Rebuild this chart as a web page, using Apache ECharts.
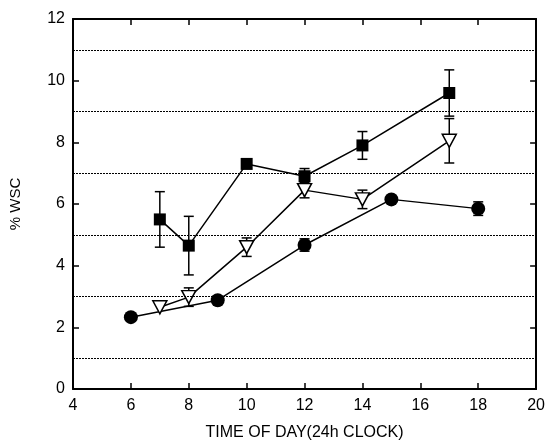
<!DOCTYPE html>
<html><head><meta charset="utf-8">
<script src="https://cdn.jsdelivr.net/npm/echarts@6/dist/echarts.min.js"></script>
<style>html,body{margin:0;padding:0;background:#fff}#c{width:548px;height:446px}</style>
</head><body><div id="c"></div>
<script>
// Data
var squareX = [7, 8, 10, 12, 14, 17];
var squareY = [5.5, 4.65, 7.3, 6.9, 7.9, 9.6];
var squareErr = [0.9, 0.95, 0, 0.25, 0.45, 0.75];

var triX = [7, 8, 10, 12, 14, 17];
var triY = [2.65, 2.98, 4.6, 6.45, 6.15, 8.05];
var triErr = [0, 0.3, 0.3, 0.25, 0.3, 0.72];

var circX = [6, 9, 12, 15, 18];
var circY = [2.33, 2.88, 4.67, 6.15, 5.85];
var circErr = [0, 0, 0.2, 0, 0.22];

var gridValues = [1, 3, 5, 7, 9, 11];
var xTicks = [4, 6, 8, 10, 12, 14, 16, 18, 20];
var yTicks = [0, 2, 4, 6, 8, 10, 12];

function pts(xs, ys) { return xs.map(function (x, i) { return [x, ys[i]]; }); }
function errPts(xs, ys, es) {
  var out = [];
  xs.forEach(function (x, i) { if (es[i] > 0) out.push([x, ys[i] - es[i], ys[i] + es[i]]); });
  return out;
}
var allErr = errPts(squareX, squareY, squareErr)
  .concat(errPts(triX, triY, triErr))
  .concat(errPts(circX, circY, circErr));

var font = 'Liberation Sans, Arial, sans-serif';
var chart = echarts.init(document.getElementById('c'), null, {renderer: 'canvas'});
var axisLine = {show: true, onZero: false, lineStyle: {color: '#000', width: 2}};
var tickIn = {show: true, inside: true, length: 6, lineStyle: {color: '#000', width: 1.5}};
chart.setOption({
  animation: false,
  backgroundColor: '#fff',
  grid: {left: 71, right: 9, top: 19, bottom: 56, containLabel: false},
  xAxis: [{
    type: 'value', min: 4, max: 20, interval: 2, position: 'bottom',
    name: 'TIME OF DAY(24h CLOCK)', nameLocation: 'middle', nameGap: 36,
    nameTextStyle: {fontFamily: font, fontSize: 16, color: '#000'},
    axisLine: axisLine, axisTick: tickIn,
    axisLabel: {fontFamily: font, fontSize: 16, color: '#000', margin: 9,
      formatter: function (v) { return xTicks.indexOf(v) >= 0 ? String(v) : ''; }},
    splitLine: {show: false}
  }, {
    type: 'value', min: 4, max: 20, interval: 2, position: 'top',
    axisLine: axisLine, axisTick: tickIn, axisLabel: {show: false}, splitLine: {show: false}
  }],
  yAxis: [{
    type: 'value', min: 0, max: 12, interval: 2, position: 'left',
    name: '% WSC', nameLocation: 'middle', nameGap: 50, nameRotate: 90,
    nameTextStyle: {fontFamily: font, fontSize: 15, color: '#000'},
    axisLine: axisLine, axisTick: tickIn,
    axisLabel: {fontFamily: font, fontSize: 16, color: '#000', margin: 8,
      formatter: function (v) { return yTicks.indexOf(v) >= 0 ? String(v) : ''; }},
    splitLine: {show: false}
  }, {
    type: 'value', min: 0, max: 12, interval: 2, position: 'right',
    axisLine: axisLine, axisTick: tickIn, axisLabel: {show: false}, splitLine: {show: false}
  }],
  series: [
    {
      type: 'line', data: [], silent: true,
      markLine: {
        silent: true, symbol: 'none', label: {show: false},
        lineStyle: {color: '#000', type: [2, 1], width: 1.2},
        data: gridValues.map(function (v) { return {yAxis: v}; })
      }
    },
    {
      type: 'custom', z: 1, data: allErr, silent: true,
      renderItem: function (params, api) {
        var x = api.value(0);
        var lo = api.coord([x, api.value(1)]);
        var hi = api.coord([x, api.value(2)]);
        var w = 5;
        var st = {stroke: '#000', lineWidth: 1.5};
        return {type: 'group', children: [
          {type: 'line', shape: {x1: lo[0], y1: lo[1], x2: hi[0], y2: hi[1]}, style: st},
          {type: 'line', shape: {x1: lo[0] - w, y1: lo[1], x2: lo[0] + w, y2: lo[1]}, style: st},
          {type: 'line', shape: {x1: hi[0] - w, y1: hi[1], x2: hi[0] + w, y2: hi[1]}, style: st}
        ]};
      }
    },
    {
      type: 'line', z: 3, data: pts(squareX, squareY), symbol: 'rect', symbolSize: 12,
      lineStyle: {color: '#000', width: 1.5}, itemStyle: {color: '#000'}
    },
    {
      type: 'line', z: 3, data: pts(triX, triY), symbol: 'triangle', symbolSize: [14, 13], symbolRotate: 180,
      lineStyle: {color: '#000', width: 1.5}, itemStyle: {color: '#fff', borderColor: '#000', borderWidth: 1.5}
    },
    {
      type: 'line', z: 3, data: pts(circX, circY), symbol: 'circle', symbolSize: 14,
      lineStyle: {color: '#000', width: 1.5}, itemStyle: {color: '#000'}
    }
  ]
});
</script></body></html>
